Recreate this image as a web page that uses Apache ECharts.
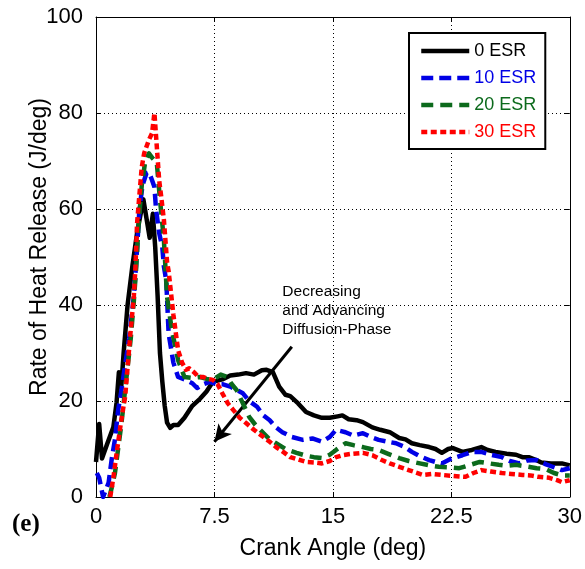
<!DOCTYPE html>
<html>
<head>
<meta charset="utf-8">
<script src="https://cdn.jsdelivr.net/npm/echarts@6/dist/echarts.min.js"></script>
<style>
  html, body { margin: 0; padding: 0; background: #fff; }
  #chart { width: 585px; height: 569px; }
</style>
</head>
<body>
<div id="chart"></div>
<script>
// Rate of heat release vs crank angle for four ESR levels
const seriesNames = ['0 ESR', '10 ESR', '20 ESR', '30 ESR'];
const xTicks = [0, 7.5, 15, 22.5, 30];
const yTicks = [0, 20, 40, 60, 80, 100];

const angle0 = [0, 0.2, 0.38, 0.7, 1.1, 1.3, 1.45, 1.6, 1.75, 2.0, 2.3, 2.6, 3.0, 3.2, 3.4, 3.6, 3.75, 3.9, 4.05, 4.2, 4.35, 4.5, 4.7, 4.9, 5.2, 5.6, 6.1, 6.6, 7.0, 7.4, 8.0, 8.5, 9.0, 9.5, 10.0, 10.5, 10.8, 11.2, 11.6, 12.0, 12.3, 12.8, 13.3, 13.8, 14.3, 14.8, 15.3, 15.6, 16.0, 16.5, 16.9, 17.5, 18.0, 18.6, 19.2, 19.6, 20.0, 20.5, 21.1, 21.5, 21.9, 22.3, 22.6, 23.2, 23.8, 24.4, 24.8, 25.3, 26.0, 26.6, 27.0, 27.4, 27.8, 28.2, 28.8, 29.5, 30];
const hrr0 = [7.3, 15.2, 8, 11, 14.6, 19.6, 26, 23, 30, 40, 48, 55, 62, 58, 54, 59, 52, 42, 30, 24, 19, 15.5, 14.4, 15, 15, 16.5, 19, 20.5, 22, 24, 24.5, 25.3, 25.5, 25.8, 25.5, 26.4, 26.5, 26, 23, 21.3, 21, 19.5, 17.7, 17, 16.5, 16.5, 16.8, 17, 16.2, 16, 15.6, 14.5, 14, 13.5, 12.3, 12, 11.2, 10.8, 10.4, 10.0, 9.2, 10, 10.2, 9.4, 9.8, 10.4, 9.8, 9.4, 9, 8.8, 8.3, 8.3, 7.8, 7.2, 7.0, 7.0, 6.6];

const angle10 = [0.05, 0.2, 0.45, 0.8, 1.0, 1.2, 1.4, 1.6, 1.8, 2.1, 2.4, 2.55, 2.75, 2.95, 3.2, 3.35, 3.55, 3.7, 3.8, 4.0, 4.2, 4.3, 4.45, 4.6, 4.9, 5.2, 5.6, 6.1, 6.4, 6.8, 7.2, 7.6, 8.0, 8.5, 8.9, 9.3, 9.7, 10.2, 10.6, 11.0, 11.4, 11.8, 12.4, 13.1, 13.7, 14.3, 14.8, 15.2, 15.8, 16.3, 16.9, 17.4, 17.9, 18.5, 19.0, 19.5, 20.0, 20.5, 21.1, 21.5, 21.9, 22.5, 23.2, 23.8, 24.4, 25.0, 25.7, 26.2, 26.8, 27.3, 27.9, 28.5, 29.0, 29.5, 30];
const hrr10 = [5, 4, 0, 3, 8, 12, 18, 22, 26.5, 33, 42, 49, 60, 65, 67.5, 67.7, 66, 64.6, 60, 55, 52, 48, 45, 34, 28, 25, 24.5, 23.7, 22.7, 23.5, 24, 23.5, 23.5, 23, 22.3, 21.6, 20, 18.8, 17, 16, 14.5, 13.5, 12.5, 11.9, 12.2, 11.5, 12.5, 14, 13.5, 12.8, 13.3, 12.5, 11.9, 11.5, 11.2, 10.5, 9.4, 8.5, 7.7, 7.3, 7, 8, 8.7, 9.4, 9.4, 8.8, 8.3, 7.5, 7, 7.6, 7.7, 6.8, 6.2, 5.6, 6];

const angle20 = [0.85, 1.0, 1.2, 1.4, 1.6, 1.8, 2.0, 2.2, 2.4, 2.55, 2.7, 2.9, 3.1, 3.35, 3.6, 3.85, 4.05, 4.3, 4.5, 4.8, 5.2, 5.6, 6.1, 6.6, 7.0, 7.4, 7.9, 8.3, 8.6, 8.9, 9.3, 9.7, 10.1, 10.6, 11.0, 11.4, 12.0, 12.7, 13.3, 13.8, 14.3, 14.8, 15.2, 15.8, 16.3, 16.9, 17.4, 17.9, 18.5, 19.2, 19.8, 20.5, 21.1, 21.7, 22.3, 23.0, 23.6, 24.3, 24.9, 25.5, 26.0, 26.6, 27.2, 27.9, 28.5, 29.0, 29.5, 30];
const hrr20 = [0, 2, 5, 10, 15, 21, 27, 33, 41, 48, 57, 65, 69.5, 71.6, 70.5, 69.6, 62, 53.5, 41.7, 34.8, 28.5, 25, 24.8, 25, 24.6, 24.4, 25.5, 25, 23.5, 22.3, 19.5, 16.7, 15, 13.3, 12, 11.2, 10, 9.2, 8.6, 8.3, 8.1, 8.8, 9.8, 11.2, 10.8, 10.4, 10, 9.8, 9, 8.1, 7.5, 7, 6.6, 6.3, 6.2, 6, 6.6, 7.3, 7, 6.7, 6.5, 6.7, 6.4, 6, 5.8, 5, 4.5, 4.5];

const angle30 = [0.9, 1.1, 1.3, 1.6, 1.85, 2.15, 2.4, 2.5, 2.6, 2.75, 2.9, 3.05, 3.2, 3.35, 3.55, 3.7, 3.85, 4.0, 4.15, 4.3, 4.5, 4.6, 4.9, 5.2, 5.45, 5.7, 5.9, 6.2, 6.5, 6.8, 7.1, 7.4, 7.7, 8.0, 8.35, 8.7, 9.1, 9.5, 10.0, 10.6, 11.0, 11.4, 11.9, 12.3, 12.8, 13.3, 13.8, 14.3, 14.8, 15.2, 15.6, 16.2, 16.9, 17.5, 18.1, 18.6, 19.2, 19.9, 20.7, 21.3, 21.9, 22.6, 23.4, 23.9, 24.4, 25.0, 25.7, 26.3, 27.0, 27.5, 28.0, 28.7, 29.2, 29.5, 30];
const hrr30 = [0, 4, 9, 16, 21, 33, 42, 48, 57, 63, 68.8, 71.6, 73, 74.4, 75.8, 80, 73, 66, 62, 57.7, 49, 47, 38, 30.6, 28, 26.5, 26.8, 26, 25, 25, 24.6, 24.4, 23.5, 21.6, 19.5, 18.1, 16.5, 15.4, 14, 12.5, 11.5, 10.4, 9.3, 8.3, 7.8, 7.3, 7.2, 7, 7.5, 8.3, 8.7, 9.0, 9.2, 8.7, 7.7, 7, 6.3, 5.5, 4.6, 4.8, 4.6, 4.4, 4.2, 5, 5.6, 5.3, 5, 4.8, 4.6, 4.5, 4.2, 4.0, 3.5, 3.1, 3.5];

const annotationText = ['Decreasing', 'and Advancing', 'Diffusion-Phase'];
const annotationAnchor = [11.8, 38.75];
const arrowFrom = [12.4, 31.3];
const arrowTo = [7.5, 11.5];

const colors = ['#000000', '#0000e6', '#0c6a1c', '#ff0000'];
const dashes = ['solid', [12, 6], [12, 7], [6, 3.5]];
const widths = [4.5, 4.5, 4.5, 4.5];

const FONT = 'Liberation Sans, Arial, sans-serif';

function pairs(xs, ys) { return xs.map((x, i) => [x, ys[i]]); }
const dataSets = [pairs(angle0, hrr0), pairs(angle10, hrr10), pairs(angle20, hrr20), pairs(angle30, hrr30)];

const series = seriesNames.map((name, i) => ({
  name: name,
  type: 'line',
  data: dataSets[i],
  showSymbol: false,
  symbol: 'none',
  smooth: false,
  z: 3 + i,
  lineStyle: { color: colors[i], width: widths[i], type: dashes[i], cap: 'butt', join: 'round' },
  itemStyle: { color: colors[i] },
  animation: false
}));

// arrow and note attached to the first series, positioned in data space
series[0].markLine = {
  silent: true,
  animation: false,
  symbol: ['none', 'arrow'],
  symbolSize: [13, 17],
  label: { show: false },
  lineStyle: { color: '#000', width: 3, type: 'solid' },
  data: [[{ coord: arrowFrom }, { coord: arrowTo }]]
};
series[0].markPoint = {
  silent: true,
  animation: false,
  symbol: 'circle',
  symbolSize: 0,
  data: [{ coord: annotationAnchor }],
  label: {
    show: true,
    position: 'right',
    distance: 0,
    align: 'left',
    verticalAlign: 'middle',
    formatter: annotationText.join('\n'),
    fontFamily: FONT,
    fontSize: 15.5,
    lineHeight: 19,
    color: '#000'
  }
};

const axisCommon = {
  type: 'value',
  axisLine: { show: true, onZero: false, lineStyle: { color: '#000', width: 1 } },
  axisTick: { show: true, inside: true, length: 5, lineStyle: { color: '#000', width: 1 } },
  splitLine: { show: false }
};

const chart = echarts.init(document.getElementById('chart'), null, { renderer: 'canvas' });
chart.setOption({
  animation: false,
  backgroundColor: '#fff',
  grid: { left: 96, right: 13, top: 17, bottom: 72, containLabel: false },
  legend: {
    orient: 'vertical',
    left: 409,
    top: 33,
    padding: [9, 9, 8, 10],
    itemWidth: 48,
    itemHeight: 18,
    itemGap: 9,
    itemTextGap: 4,
    borderColor: '#000',
    borderWidth: 2,
    backgroundColor: '#fff',
    itemStyle: { opacity: 0 },
    lineStyle: { width: 4.5 },
    textStyle: { fontFamily: FONT, fontSize: 18 },
    data: seriesNames.map((n, i) => ({ name: n, textStyle: { color: colors[i] } }))
  },
  xAxis: [
    Object.assign({}, axisCommon, {
      position: 'bottom',
      min: xTicks[0], max: xTicks[xTicks.length - 1], interval: 7.5,
      name: 'Crank Angle (deg)',
      nameLocation: 'middle',
      nameGap: 40,
      nameMoveOverlap: false,
      nameTextStyle: { fontFamily: FONT, fontSize: 23, color: '#000' },
      axisLabel: { color: '#000', fontFamily: FONT, fontSize: 22, margin: 9 },
      splitLine: { show: true, lineStyle: { color: '#000', width: 1, type: [1, 3] } }
    }),
    Object.assign({}, axisCommon, {
      position: 'top',
      min: xTicks[0], max: xTicks[xTicks.length - 1], interval: 7.5,
      axisLabel: { show: false }
    })
  ],
  yAxis: [
    Object.assign({}, axisCommon, {
      position: 'left',
      min: yTicks[0], max: yTicks[yTicks.length - 1], interval: 20,
      name: 'Rate of Heat Release (J/deg)',
      nameLocation: 'middle',
      nameGap: 45,
      nameMoveOverlap: false,
      nameTextStyle: { fontFamily: FONT, fontSize: 23, color: '#000', padding: [0, 0, 0, 20] },
      axisLabel: { color: '#000', fontFamily: FONT, fontSize: 22, margin: 13 },
      splitLine: { show: true, lineStyle: { color: '#000', width: 1, type: [1, 3] } }
    }),
    Object.assign({}, axisCommon, {
      position: 'right',
      min: yTicks[0], max: yTicks[yTicks.length - 1], interval: 20,
      axisLabel: { show: false }
    })
  ],
  graphic: [{
    type: 'text',
    left: 12,
    top: 512,
    style: { text: '(e)', font: 'bold 25px "Liberation Serif", "Times New Roman", serif', fill: '#000' }
  }],
  series: series
});
</script>
</body>
</html>
